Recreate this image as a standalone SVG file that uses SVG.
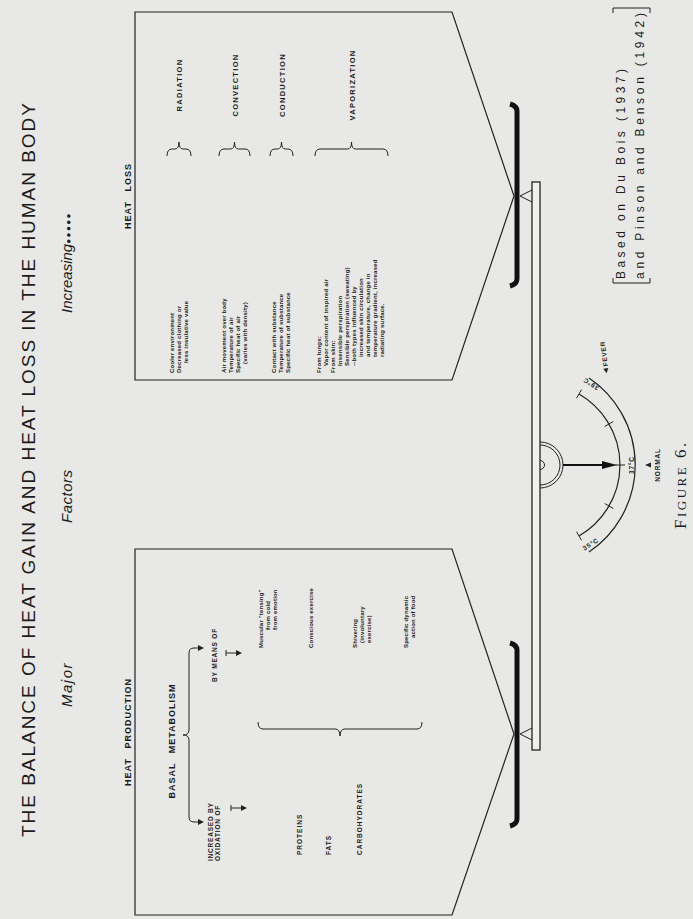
<svg xmlns="http://www.w3.org/2000/svg" width="693" height="919" viewBox="0 0 693 919">
<style>
text{font-family:"Liberation Sans","DejaVu Sans",Arial,sans-serif;fill:#1c1c1c}
.title{font-size:19px}
.sub{font-size:15px;font-style:italic}
.hd{font-size:9px;font-weight:bold;letter-spacing:1px;word-spacing:6px}
.lbl{font-size:7.5px;font-weight:bold;letter-spacing:1.3px}
.t{font-size:6px;font-weight:bold;letter-spacing:0.2px}
.cap{font-size:6.5px;font-weight:bold;letter-spacing:0.8px}
.g{font-size:6.5px;font-weight:bold}
.ln{fill:none;stroke:#222;stroke-width:1.2}
.br{fill:none;stroke:#222;stroke-width:1}
.ref{font-size:12px;letter-spacing:1px}
.fig{font-family:"Liberation Serif","DejaVu Serif",serif;font-size:17px;letter-spacing:2.5px}
</style>
<rect x="0" y="0" width="693" height="919" fill="#e8e8e6"/>
<g transform="translate(0,919) rotate(-90)">
  <g id="title">
    <text class="title" x="82" y="35" textLength="734" lengthAdjust="spacing">THE BALANCE OF HEAT GAIN AND HEAT LOSS IN THE HUMAN BODY</text>
  </g>
  <g id="subtitle">
    <text class="sub" x="212" y="72" letter-spacing="1.5">Major</text>
    <text class="sub" x="396" y="72" letter-spacing="0.5">Factors</text>
    <text class="sub" x="606" y="72">Increasing<tspan font-style="normal" font-size="8px" letter-spacing="1.5px" dy="-1">●●●●●</tspan></text>
  </g>

  <g id="heat-production">
    <polygon class="ln" points="4,135 370,135 370,452 185,514 4,452"/>
    <text class="hd" x="187" y="131" text-anchor="middle">HEAT PRODUCTION</text>
    <text class="hd" x="178" y="175" text-anchor="middle" letter-spacing="2">BASAL METABOLISM</text>
    <path class="br" d="M97,199 L97,194 Q97,189 102,189 L179,189 Q184,189 184,183 Q184,189 189,189 L266,189 Q271,189 271,194 L271,199"/>
    <polygon points="94,198 100,198 97,204" fill="#222"/>
    <polygon points="268,198 274,198 271,204" fill="#222"/>
    <text class="cap" x="58" y="213">INCREASED BY</text>
    <text class="cap" x="58" y="220">OXIDATION OF</text>
    <path class="br" d="M108,231 L114,231 M111,231 L111,242"/>
    <polygon points="108,241 114,241 111,247" fill="#222"/>
    <text class="cap" x="264" y="217" text-anchor="middle">BY MEANS OF</text>
    <path class="br" d="M263,226 L269,226 M266,226 L266,237"/>
    <polygon points="263,236 269,236 266,242" fill="#222"/>
    <text class="g" x="64" y="302" letter-spacing="1">PROTEINS</text>
    <text class="g" x="64" y="331" letter-spacing="1">FATS</text>
    <text class="g" x="64" y="362" letter-spacing="1">CARBOHYDRATES</text>
    <path class="br" d="M197,258 Q190,258 190,263 L190,335 Q190,340 183,340 Q190,340 190,345 L190,417 Q190,422 197,422"/>
    <text class="t" x="271" y="263">Muscular "tensing"</text>
    <text class="t" x="289" y="270">from cold</text>
    <text class="t" x="289" y="277">from emotion</text>
    <text class="t" x="271" y="313">Conscious exercise</text>
    <text class="t" x="271" y="357">Shivering</text>
    <text class="t" x="276" y="364">(involuntary</text>
    <text class="t" x="276" y="371">exercise)</text>
    <text class="t" x="271" y="408">Specific dynamic</text>
    <text class="t" x="281" y="415">action of food</text>
  </g>

  <g id="heat-loss">
    <polygon class="ln" points="539,135 907,135 907,452 723,514 539,452"/>
    <text class="hd" x="723" y="131" text-anchor="middle">HEAT LOSS</text>
    <text class="t" x="546" y="174">Cooler environment</text>
    <text class="t" x="546" y="181">Decreased clothing or</text>
    <text class="t" x="556" y="188">less insulative value</text>
    <text class="t" x="546" y="226">Air movement over body</text>
    <text class="t" x="546" y="233">Temperature of air</text>
    <text class="t" x="546" y="240">Specific heat of air</text>
    <text class="t" x="555" y="247">(varies with density)</text>
    <text class="t" x="546" y="276">Contact with substance</text>
    <text class="t" x="546" y="283">Temperature of substance</text>
    <text class="t" x="546" y="290">Specific heat of substance</text>
    <text class="t" x="546" y="321">From lungs:</text>
    <text class="t" x="553" y="328">Vapor content of inspired air</text>
    <text class="t" x="546" y="335">From skin:</text>
    <text class="t" x="553" y="342">Insensible perspiration</text>
    <text class="t" x="553" y="349">Sensible perspiration (sweating)</text>
    <text class="t" x="553" y="356">--both types influenced by</text>
    <text class="t" x="562" y="363">increased skin circulation</text>
    <text class="t" x="562" y="370">and temperature, change in</text>
    <text class="t" x="562" y="377">temperature gradient, increased</text>
    <text class="t" x="562" y="384">radiating surface.</text>
    <path class="br" d="M763,167 Q770,167 770,172 L770,175 Q770,179 777,179 Q770,179 770,183 L770,186 Q770,191 763,191"/>
    <path class="br" d="M763,219 Q770,219 770,224 L770,230.5 Q770,234.5 777,234.5 Q770,234.5 770,238.5 L770,245 Q770,250 763,250"/>
    <path class="br" d="M763,270 Q770,270 770,275 L770,277.5 Q770,281.5 777,281.5 Q770,281.5 770,285.5 L770,288 Q770,293 763,293"/>
    <path class="br" d="M763,315 Q770,315 770,320 L770,347.5 Q770,351.5 777,351.5 Q770,351.5 770,355.5 L770,383 Q770,388 763,388"/>
    <text class="lbl" x="834" y="182" text-anchor="middle">RADIATION</text>
    <text class="lbl" x="834" y="237.5" text-anchor="middle">CONVECTION</text>
    <text class="lbl" x="834" y="284.5" text-anchor="middle">CONDUCTION</text>
    <text class="lbl" x="834" y="354.5" text-anchor="middle">VAPORIZATION</text>
  </g>

  <g id="balance">
    <path d="M93,510 Q95,517 100,517 L269,517 Q274,517 276,510" fill="none" stroke="#111" stroke-width="5"/>
    <path d="M633,510 Q635,517 640,517 L808,517 Q813,517 815,510" fill="none" stroke="#111" stroke-width="5"/>
    <polyline class="br" points="179,532 185,520 191,532"/>
    <polyline class="br" points="717,532 723,520 729,532"/>
    <rect x="169" y="532" width="568" height="8" fill="#f0f0ee" stroke="#222" stroke-width="1.3"/>
    <path class="br" d="M431,540 A23,23 0 0 0 477,540"/>
    <path class="br" d="M434,540 A20,20 0 0 0 474,540"/>
    <path class="br" d="M449.5,540 A4.5,4.5 0 0 0 458.5,540"/>
  </g>

  <g id="gauge">
    <line x1="454" y1="563" x2="454" y2="604" stroke="#111" stroke-width="2"/>
    <polygon points="450,602 458,602 454,617" fill="#111"/>
    <path class="ln" d="M383,579 A82,82 0 0 0 525,579"/>
    <path class="ln" d="M367,589 A105,105 0 0 0 541,589"/>
    <path class="br" d="M387.3,576.5 L378.7,581.5 M415.5,604.7 L410.5,613.3 M454,615 L454,625 M492.5,604.7 L497.5,613.3 M520.7,576.5 L529.3,581.5"/>
    <text class="cap" x="454" y="634" text-anchor="middle" letter-spacing="0.3">37°C</text>
    <polygon points="451.5,651 456.5,651 454,645" fill="#222"/>
    <text class="cap" x="454" y="660" text-anchor="middle" letter-spacing="0.3">NORMAL</text>
    <text class="cap" x="0" y="0" text-anchor="middle" transform="translate(537,592) rotate(-58)">39°C</text>
    <text class="cap" x="0" y="0" text-anchor="middle" transform="translate(373,592) rotate(58)">35°C</text>
    <g transform="translate(546,609) rotate(-8)">
      <polygon points="0,-2.5 5,-5 5,0" fill="#222"/>
      <text class="cap" x="7" y="0">FEVER</text>
    </g>
  </g>

  <g id="source">
    <path class="br" d="M641,613 L636,613 L636,650 L641,650"/>
    <path class="br" d="M906,613 L911,613 L911,650 L906,650"/>
    <text class="ref" x="640" y="625" textLength="211" lengthAdjust="spacing">Based on Du Bois (1937)</text>
    <text class="ref" x="640" y="644" textLength="267" lengthAdjust="spacing">and Pinson and Benson (1942)</text>
  </g>

  <g id="caption">
    <text class="fig" x="390" y="686">F<tspan font-size="13px">IGURE</tspan> 6.</text>
  </g>
</g>
</svg>
